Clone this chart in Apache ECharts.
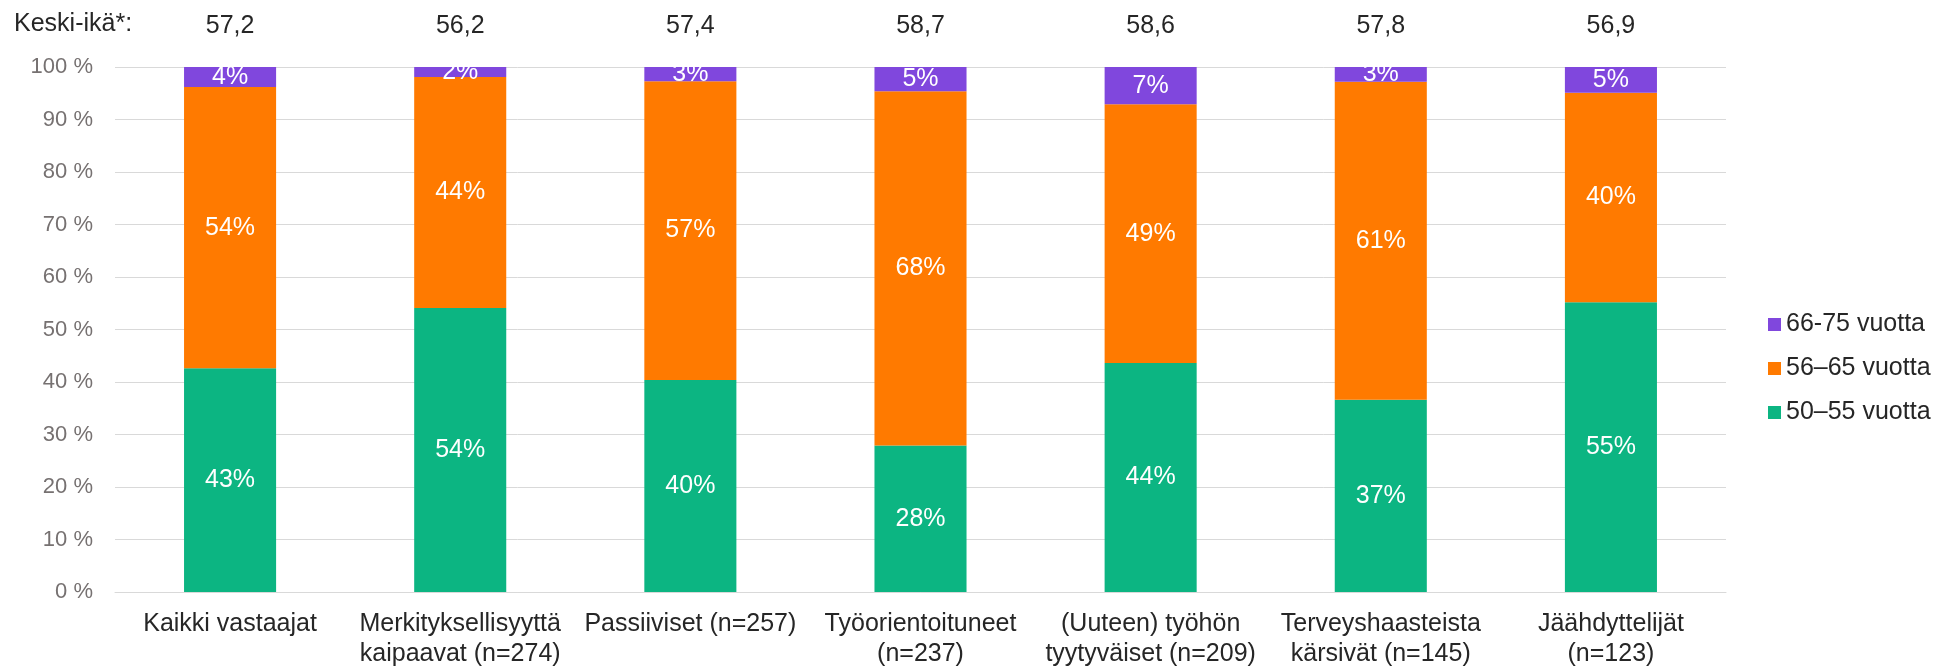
<!DOCTYPE html>
<html>
<head>
<meta charset="utf-8">
<title>Keski-ikä</title>
<script src="https://cdn.jsdelivr.net/npm/echarts@6/dist/echarts.min.js"></script>
<style>
    html, body { margin: 0; padding: 0; background: #fff; }
    #ageBar { width: 1957px; height: 670px; }
</style>
</head>
<body>
<div id="ageBar"></div>
<script>
/*********** data ***********/
var groups = ['Kaikki vastaajat', 'Merkityksellisyyttä\nkaipaavat (n=274)', 'Passiiviset (n=257)',
    'Työorientoituneet\n(n=237)', '(Uuteen) työhön\ntyytyväiset (n=209)', 'Terveyshaasteista\nkärsivät (n=145)',
    'Jäähdyttelijät\n(n=123)'];
var meanAge = ['57,2', '56,2', '57,4', '58,7', '58,6', '57,8', '56,9'];
var age50_55 = [42.6, 54.1, 40.4, 27.9, 43.6, 36.6, 55.2];
var age56_65 = [53.6, 44.0, 56.9, 67.5, 49.3, 60.6, 39.9];
var age66_75 = [3.8, 1.9, 2.7, 4.6, 7.1, 2.8, 4.9];
var yTicks = [0, 10, 20, 30, 40, 50, 60, 70, 80, 90, 100];

(function(){
    var dom = document.getElementById('ageBar');
    var chart = echarts.init(dom);
    var font = 'Liberation Sans, Arial, sans-serif';
    var option = null;

    function pctLabel(p){
        return Math.round(p.value) + '%';
    }

    function makeSeries(name, data, color){
        return {
            name: name,
            type: 'bar',
            stack: 'all',
            barWidth: '40%',
            data: data,
            itemStyle: { color: color },
            label: {
                show: true,
                position: 'inside',
                color: '#fff',
                fontSize: 25,
                fontFamily: font,
                formatter: pctLabel
            }
        };
    }

    option = {
        animation: false,
        title: {
            text: 'Keski-ikä*:',
            left: 14,
            top: 12,
            padding: 0,
            textStyle: { fontSize: 25, fontWeight: 'normal', color: '#262626', fontFamily: font }
        },
        legend: {
            orient: 'vertical',
            left: 1763,
            top: 307,
            itemWidth: 13,
            itemHeight: 13,
            itemGap: 19,
            icon: 'rect',
            data: ['66-75 vuotta', '56–65 vuotta', '50–55 vuotta'],
            textStyle: { fontSize: 25, color: '#262626', fontFamily: font }
        },
        grid: { left: 115, right: 231, top: 67, bottom: 78, containLabel: false },
        xAxis: [{
            type: 'category',
            data: groups,
            axisLine: { lineStyle: { color: '#d9d9d9', width: 1 } },
            axisTick: { show: false },
            axisLabel: { interval: 0, margin: 17, fontSize: 25, lineHeight: 30, color: '#262626', fontFamily: font }
        }, {
            type: 'category',
            position: 'top',
            data: meanAge,
            axisLine: { show: false },
            axisTick: { show: false },
            axisLabel: { interval: 0, margin: 28, fontSize: 25, color: '#262626', fontFamily: font }
        }],
        yAxis: {
            type: 'value',
            min: yTicks[0],
            max: yTicks[yTicks.length - 1],
            interval: 10,
            axisLine: { show: false },
            axisTick: { show: false },
            splitLine: { lineStyle: { color: '#d9d9d9', width: 1 } },
            axisLabel: {
                margin: 22,
                fontSize: 22,
                color: '#767171',
                fontFamily: font,
                formatter: function(v){ return v + ' %'; }
            }
        },
        series: [
            makeSeries('50–55 vuotta', age50_55, '#0cb582'),
            makeSeries('56–65 vuotta', age56_65, '#ff7a00'),
            makeSeries('66-75 vuotta', age66_75, '#8047dd')
        ]
    };
    if (option && typeof option === 'object') {
        chart.setOption(option, true);
    }
})();
</script>
</body>
</html>
